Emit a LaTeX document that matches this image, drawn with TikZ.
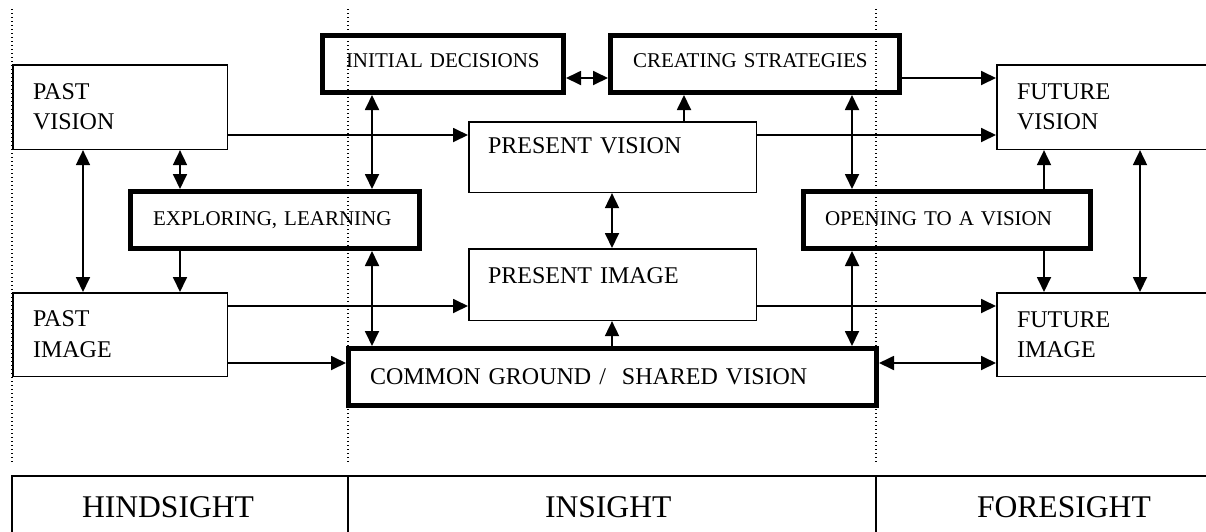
\documentclass[tikz,border=0pt]{standalone}
\usepackage{fontspec}
\setmainfont{Liberation Serif}
\usetikzlibrary{arrows.meta}
\begin{document}
\begin{tikzpicture}[x=1pt,y=-1pt,
  >={Triangle[length=15pt,width=14pt]},
  bx/.style={draw, anchor=north west, inner ysep=0pt, align=left},
  thinbox/.style={bx, line width=1.6pt},
  thickbox/.style={bx, line width=5pt},
  big/.style={font=\fontsize{24}{30.5}\selectfont},
  small/.style={font=\fontsize{21}{26}\selectfont},
  tabcell/.style={bx, line width=2pt, font=\fontsize{31.6}{38}\selectfont},
  one/.style={line width=1.8pt, ->},
  two/.style={line width=1.8pt, <->},
  guide/.style={line width=1.2pt, dash pattern=on 1.2pt off 2.8pt}]
\clip (0,0) rectangle (1206,531);

% thin boxes
\node[thinbox,big,inner xsep=20.25pt,text width=174pt,text height=34.25pt,text depth=50.25pt] (PV) at (12,64) {PAST\\VISION};
\node[thinbox,big,inner xsep=20.25pt,text width=174pt,text height=34pt,text depth=49.5pt] (PI) at (12,292) {PAST\\IMAGE};
\node[thinbox,big,inner xsep=19.25pt,text width=249pt,text height=31.75pt,text depth=38.75pt] (PrV) at (468,121) {\mbox{PRESENT VISION}};
\node[thinbox,big,inner xsep=19.25pt,text width=249pt,text height=34.25pt,text depth=37.25pt] (PrI) at (468,248) {\mbox{PRESENT IMAGE}};
\node[thinbox,big,inner xsep=20.25pt,text width=182pt,text height=34.25pt,text depth=50.25pt] (FV) at (996,64) {FUTURE\\VISION};
\node[thinbox,big,inner xsep=20.25pt,text width=182pt,text height=34.25pt,text depth=49.25pt] (FI) at (996,292) {FUTURE\\IMAGE};

% thick boxes
\node[thickbox,small,inner xsep=23.5pt,text width=194pt,text height=32pt,text depth=25pt] (ID) at (320,33) {\mbox{INITIAL DECISIONS}};
\node[thickbox,small,inner xsep=22.5pt,text width=244pt,text height=32pt,text depth=25pt] (CS) at (608,33) {\mbox{CREATING STRATEGIES}};
\node[thickbox,small,inner xsep=22.5pt,text width=244pt,text height=33.5pt,text depth=23.5pt] (EL) at (128,189) {\mbox{EXPLORING, LEARNING}};
\node[thickbox,small,inner xsep=21.5pt,text width=244pt,text height=33.5pt,text depth=23.5pt] (OV) at (801,189) {\mbox{OPENING TO A VISION}};
\node[thickbox,big,inner xsep=21.5pt,text width=485pt,text height=35.5pt,text depth=21.5pt] (CG) at (346,346) {\mbox{COMMON GROUND /\ \ SHARED VISION}};

% table
\node[tabcell,inner xsep=70pt,text width=196pt,text height=41pt,text depth=42pt] (HS) at (11,475) {HINDSIGHT};
\node[tabcell,inner xsep=197pt,text width=134pt,text height=41pt,text depth=42pt] (IS) at (347,475) {INSIGHT};
\node[tabcell,inner xsep=101pt,text width=182pt,text height=41pt,text depth=42pt] (FS) at (875,475) {FORESIGHT};

% connectors
\draw[one] (PV.east |- 0,135) -- (PrV.west |- 0,135);
\draw[two] (PV.south -| 83,0) -- (PI.north -| 83,0);
\draw[two] (PV.south -| 180,0) -- (EL.north -| 180,0);
\draw[one] (EL.south -| 180,0) -- (PI.north -| 180,0);
\draw[two] (ID.south -| 372,0) -- (EL.north -| 372,0);
\draw[two] (EL.south -| 372,0) -- (CG.north -| 372,0);
\draw[one] (PI.east |- 0,306) -- (PrI.west |- 0,306);
\draw[one] (PI.east |- 0,363) -- (CG.west |- 0,363);
\draw[two] (ID.east |- 0,78) -- (CS.west |- 0,78);
\draw[one] (PrV.north -| 684,0) -- (CS.south -| 684,0);
\draw[two] (PrV.south -| 612,0) -- (PrI.north -| 612,0);
\draw[one] (CG.north -| 612,0) -- (PrI.south -| 612,0);
\draw[one] (CS.east |- 0,78) -- (FV.west |- 0,78);
\draw[one] (PrV.east |- 0,135) -- (FV.west |- 0,135);
\draw[two] (CS.south -| 852,0) -- (OV.north -| 852,0);
\draw[two] (OV.south -| 852,0) -- (CG.north -| 852,0);
\draw[one] (OV.north -| 1044,0) -- (FV.south -| 1044,0);
\draw[one] (OV.south -| 1044,0) -- (FI.north -| 1044,0);
\draw[two] (FV.south -| 1140,0) -- (FI.north -| 1140,0);
\draw[one] (PrI.east |- 0,306) -- (FI.west |- 0,306);
\draw[two] (CG.east |- 0,363) -- (FI.west |- 0,363);

% dotted guide lines
\coordinate (g1t) at (12,9);   \coordinate (g1b) at (12,462);
\coordinate (g2t) at (348,9);  \coordinate (g2b) at (348,462);
\coordinate (g3t) at (876,9);  \coordinate (g3b) at (876,462);
\draw[guide] (g1t) -- (g1b);
\draw[guide] (g2t) -- (g2b);
\draw[guide] (g3t) -- (g3b);
\end{tikzpicture}
\end{document}
